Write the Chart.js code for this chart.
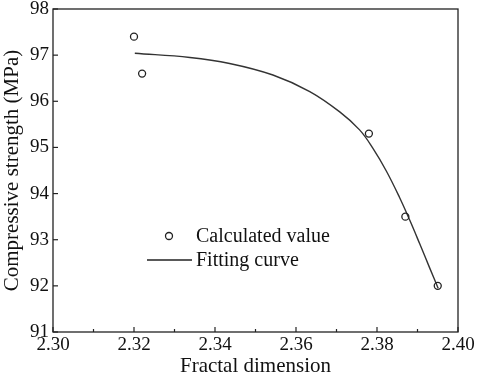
<!DOCTYPE html>
<html>
<head>
<meta charset="utf-8">
<script src="https://cdn.jsdelivr.net/npm/chart.js@4"></script>
<style>
  html, body { margin: 0; padding: 0; background: #fff; }
  #wrap { width: 477px; height: 380px; position: relative; }
</style>
</head>
<body>
<div id="wrap"><canvas id="fdChart"></canvas></div>
<script>
// Measured points (open circles)
const measuredX = [2.320, 2.322, 2.378, 2.387, 2.395];
const measuredY = [97.4, 96.6, 95.3, 93.5, 92.0];

// Fitting curve
const fitX = [2.3202, 2.3338, 2.3436, 2.3543, 2.3634, 2.3708, 2.3757, 2.3790, 2.3823, 2.3856, 2.3881, 2.3906, 2.3930, 2.3951];
const fitY = [97.04, 96.95, 96.82, 96.57, 96.21, 95.77, 95.38, 94.98, 94.49, 93.91, 93.42, 92.90, 92.39, 91.95];

const xTicks = [2.30, 2.32, 2.34, 2.36, 2.38, 2.40];
const yTicks = [91, 92, 93, 94, 95, 96, 97, 98];
const legendLabels = ["Calculated value", "Fitting curve"];

const serif = "'Liberation Serif', 'Times New Roman', serif";
const ink = "#222";

// Frame, inward ticks and the in-plot legend
const framePlugin = {
  id: "frame",
  afterDraw(chart) {
    const c = chart.ctx;
    const a = chart.chartArea;
    const xs = chart.scales.x;
    const ys = chart.scales.y;
    c.save();
    c.strokeStyle = ink;
    c.lineWidth = 1.3;
    c.strokeRect(a.left, a.top, a.right - a.left, a.bottom - a.top);

    // x ticks: major at labels, minor in between
    c.lineWidth = 1.2;
    for (let v = 2.30; v <= 2.4001; v += 0.01) {
      const px = xs.getPixelForValue(v);
      const major = Math.round(v * 100) % 2 === 0;
      c.beginPath();
      c.moveTo(px, a.bottom);
      c.lineTo(px, a.bottom - (major ? 5 : 3));
      c.stroke();
    }
    yTicks.forEach(v => {
      const py = ys.getPixelForValue(v);
      c.beginPath();
      c.moveTo(a.left, py);
      c.lineTo(a.left + 5, py);
      c.stroke();
    });

    // legend
    c.font = "20px " + serif;
    c.fillStyle = "#111";
    c.textBaseline = "middle";
    c.beginPath();
    c.arc(169, 236, 3.5, 0, 2 * Math.PI);
    c.lineWidth = 1.3;
    c.stroke();
    c.fillText(legendLabels[0], 196, 237);
    c.beginPath();
    c.moveTo(147, 260);
    c.lineTo(192, 260);
    c.stroke();
    c.fillText(legendLabels[1], 196, 261);
    c.restore();
  }
};

new Chart(document.getElementById("fdChart"), {
  type: "scatter",
  data: {
    datasets: [
      {
        label: legendLabels[0],
        data: measuredX.map((x, i) => ({ x: x, y: measuredY[i] })),
        pointStyle: "circle",
        pointRadius: 3.5,
        pointBorderWidth: 1.3,
        pointBorderColor: ink,
        pointBackgroundColor: "rgba(0,0,0,0)",
        showLine: false
      },
      {
        label: legendLabels[1],
        data: fitX.map((x, i) => ({ x: x, y: fitY[i] })),
        showLine: true,
        pointRadius: 0,
        borderColor: "#333",
        borderWidth: 1.4,
        tension: 0.4
      }
    ]
  },
  options: {
    responsive: true,
    maintainAspectRatio: false,
    animation: false,
    layout: { padding: { top: 0, right: 19, left: 0, bottom: 0 } },
    plugins: { legend: { display: false }, tooltip: { enabled: false } },
    scales: {
      x: {
        type: "linear",
        min: 2.30,
        max: 2.40,
        afterBuildTicks: s => { s.ticks = xTicks.map(v => ({ value: v })); },
        afterFit: s => { s.height = 48; },
        grid: { display: false, drawTicks: false },
        border: { display: false },
        ticks: {
          color: "#111",
          font: { family: serif, size: 19 },
          padding: 2,
          maxRotation: 0,
          callback: v => v.toFixed(2)
        },
        title: {
          display: true,
          text: "Fractal dimension",
          color: "#111",
          font: { family: serif, size: 21 },
          padding: { top: 0, bottom: 1 }
        }
      },
      y: {
        min: 91,
        max: 98,
        afterBuildTicks: s => { s.ticks = yTicks.map(v => ({ value: v })); },
        afterFit: s => { s.width = 53; s.paddingTop = 9; s.paddingBottom = 0; },
        grid: { display: false, drawTicks: false },
        border: { display: false },
        ticks: {
          color: "#111",
          font: { family: serif, size: 19 },
          padding: 4
        },
        title: {
          display: true,
          text: "Compressive strength (MPa)",
          color: "#111",
          font: { family: serif, size: 21 },
          padding: { top: 0, bottom: 0 }
        }
      }
    }
  },
  plugins: [framePlugin]
});
</script>
</body>
</html>
